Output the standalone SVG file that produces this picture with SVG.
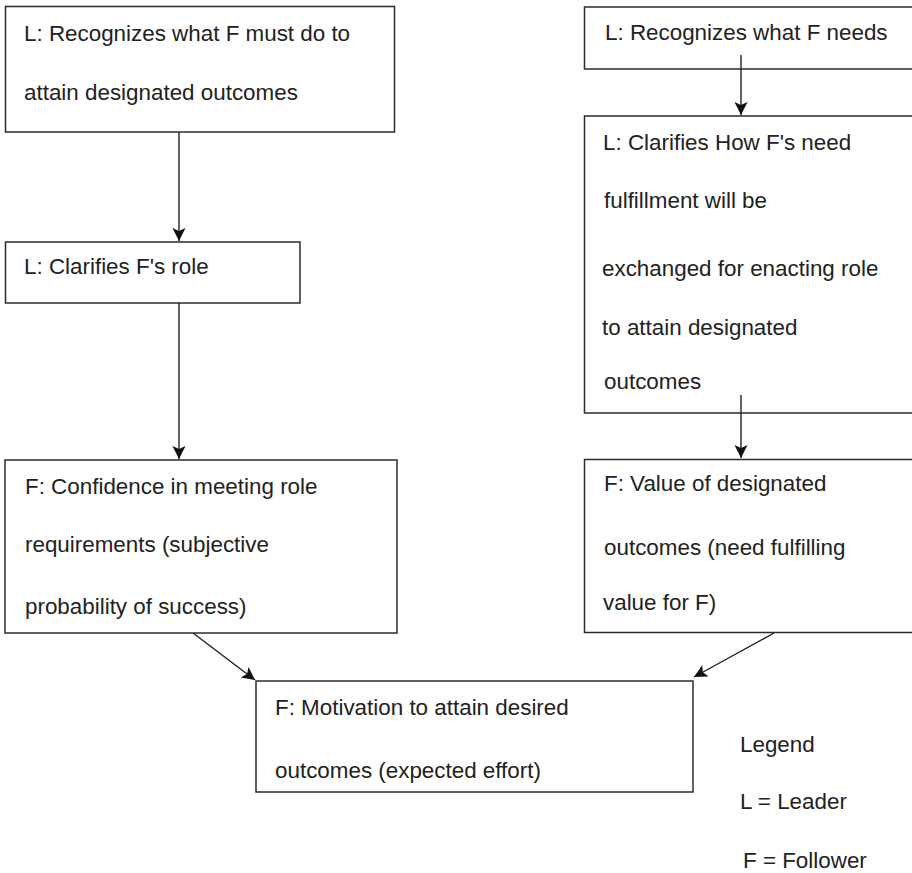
<svg xmlns="http://www.w3.org/2000/svg" width="912" height="873" viewBox="0 0 912 873">
<style>
.box{fill:#fff;stroke:#2b2b2b;stroke-width:1.5}
.t{font-family:"Liberation Sans",Arial,sans-serif;font-size:22.4px;fill:#222}
.c{stroke:#222;stroke-width:1.4;fill:none;marker-end:url(#ah)}
</style>
<defs>
<marker id="ah" markerUnits="userSpaceOnUse" markerWidth="14" markerHeight="14" refX="13" refY="6.5" orient="auto">
<path d="M0,0 L13,6.5 L0,13 L3,6.5 Z" fill="#111"/>
</marker>
</defs>
<rect width="912" height="873" fill="#fff"/>
<g id="n1"><rect class="box" x="5.5" y="6.5" width="389" height="125.5"/>
<text class="t" x="24" y="41">L: Recognizes what F must do to</text>
<text class="t" x="24" y="100">attain designated outcomes</text></g>
<g id="n2"><rect class="box" x="5.5" y="242" width="294.5" height="61"/>
<text class="t" x="24" y="274">L: Clarifies F's role</text></g>
<g id="n3"><rect class="box" x="5" y="460" width="392" height="173"/>
<text class="t" x="25" y="494">F: Confidence in meeting role</text>
<text class="t" x="25" y="552">requirements (subjective</text>
<text class="t" x="25" y="614">probability of success)</text></g>
<g id="n4"><rect class="box" x="584.5" y="7" width="340" height="62"/>
<text class="t" x="605" y="40">L: Recognizes what F needs</text></g>
<g id="n5"><rect class="box" x="584.5" y="116" width="340" height="297"/>
<text class="t" x="603" y="150">L: Clarifies How F's need</text>
<text class="t" x="604" y="208">fulfillment will be</text>
<text class="t" x="602" y="276">exchanged for enacting role</text>
<text class="t" x="602" y="335">to attain designated</text>
<text class="t" x="604" y="389">outcomes</text></g>
<g id="n6"><rect class="box" x="584.5" y="459.5" width="340" height="173"/>
<text class="t" x="604" y="491">F: Value of designated</text>
<text class="t" x="604" y="555">outcomes (need fulfilling</text>
<text class="t" x="603" y="610">value for F)</text></g>
<g id="n7"><rect class="box" x="256" y="681" width="437" height="111"/>
<text class="t" x="275" y="715">F: Motivation to attain desired</text>
<text class="t" x="275" y="778">outcomes (expected effort)</text></g>
<g id="legend">
<text class="t" x="740" y="752">Legend</text>
<text class="t" x="740" y="809">L = Leader</text>
<text class="t" x="743" y="868">F = Follower</text></g>
<g id="connectors">
<line class="c" x1="179" y1="132" x2="179" y2="241"/>
<line class="c" x1="179" y1="303" x2="179" y2="459"/>
<line class="c" x1="741" y1="55" x2="741" y2="115"/>
<line class="c" x1="741" y1="395" x2="741" y2="458"/>
<line class="c" x1="193" y1="633" x2="255" y2="680"/>
<line class="c" x1="774" y1="633" x2="694" y2="677"/>
</g>
</svg>
